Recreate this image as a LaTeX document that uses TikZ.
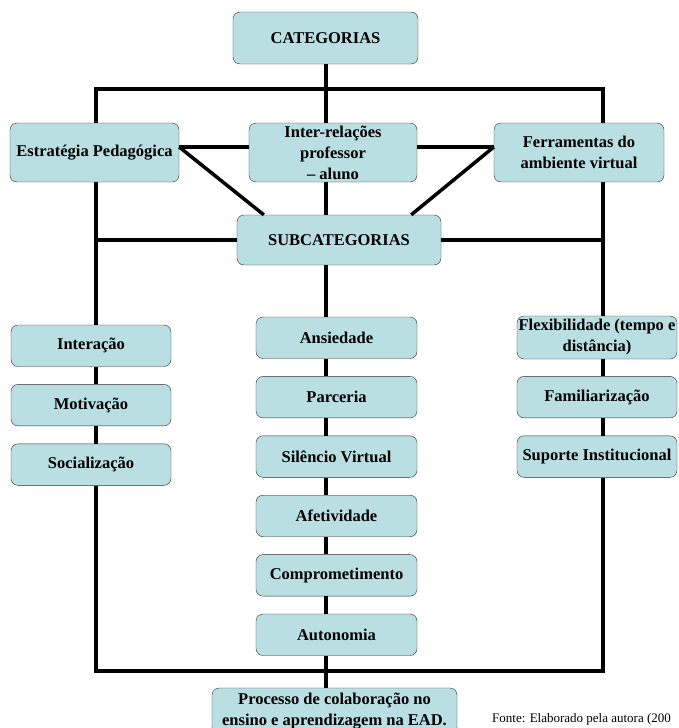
\documentclass[tikz,border=0pt]{standalone}
\usepackage{fontspec}
\setmainfont{Liberation Serif}
\usepackage{tikz}
\usetikzlibrary{positioning}
\definecolor{boxfill}{RGB}{186,223,226}
\definecolor{boxline}{RGB}{45,45,45}
\tikzset{
    catbox/.style={
           rectangle,
           rounded corners=7pt,
           draw=boxline, thin,
           fill=boxfill,
           minimum width=160pt,
           minimum height=41.5pt,
           inner sep=1pt,
           align=center,
           font=\fontsize{16.5}{21}\selectfont\bfseries,
           },
    link/.style={
           draw=black,
           line width=3.5pt,
           },
}

\begin{document}
\begin{tikzpicture}[x=1pt,y=-1pt]

 % frame of the page (the right and lower edges cut the picture)
 \useasboundingbox (0,0) rectangle (678,728);
 \clip (0,0) rectangle (678,728);

 % columns and buses of the connectors
 \coordinate (busTL) at (96,89);
 \coordinate (busTR) at (603,89);
 \coordinate (busBL) at (96,671);
 \coordinate (busBR) at (603,671);
 \coordinate (axis)  at (326,0);
 \coordinate (row1)  at (0,147);

 % STATE Categorias
 \node[catbox,
 minimum width=185pt,
 minimum height=52pt] (cat) at (325.5,38)
 {CATEGORIAS};

 % the three categories
 \node[catbox,
 minimum width=169pt,
 minimum height=59pt] (estrategia) at (94.5,152.5)
 {Estratégia Pedagógica};

 \node[catbox,
 minimum width=168pt,
 minimum height=59pt] (interrel) at (333,152.5)
 {Inter-relações\\professor\\– aluno};

 \node[catbox,
 minimum width=170pt,
 minimum height=59pt] (ferramentas) at (579,152.5)
 {Ferramentas do\\ambiente virtual};

 % STATE Subcategorias
 \node[catbox,
 minimum width=204pt,
 minimum height=50pt] (subcat) at (339,240)
 {SUBCATEGORIAS};

 % left column: Estrategia Pedagogica
 \node[catbox] (interacao) at (91,345.75) {Interação};
 \node[catbox, below=17.5pt of interacao] (motivacao) {Motivação};
 \node[catbox, below=17.5pt of motivacao] (socializacao) {Socialização};

 % middle column: Inter-relacoes
 \node[catbox, minimum width=161pt] (ansiedade) at (336.5,337.75) {Ansiedade};
 \node[catbox, minimum width=161pt, below=17.5pt of ansiedade] (parceria) {Parceria};
 \node[catbox, minimum width=161pt, below=17.5pt of parceria] (silencio) {Silêncio Virtual};
 \node[catbox, minimum width=161pt, below=17.5pt of silencio] (afetividade) {Afetividade};
 \node[catbox, minimum width=161pt, below=17.5pt of afetividade] (comprom) {Comprometimento};
 \node[catbox, minimum width=161pt, below=17.5pt of comprom] (autonomia) {Autonomia};

 % right column: Ferramentas
 \node[catbox,
 minimum height=43pt] (flexib) at (597,337.5)
 {Flexibilidade (tempo e\\distância)};
 \node[catbox, below=17pt of flexib] (familiar) {Familiarização};
 \node[catbox, below=17.5pt of familiar] (suporte) {Suporte Institucional};

 % STATE result
 \node[catbox,
 minimum width=245pt,
 minimum height=46pt] (processo) at (334.5,711)
 {Processo de colaboração no\\ensino e aprendizagem na EAD.};

 % source line
 \node[anchor=base west, inner sep=0pt,
 font=\fontsize{13}{15}\selectfont] (fonte) at (492,722.5)
 {Fonte: Elaborado pela autora (200};

 % draw the connectors: upper bus
 \draw[link] (estrategia.north -| busTL) -- (busTL) -- (busTR) -- (ferramentas.north -| busTR);
 \draw[link] (cat.south -| axis) -- (interrel.north -| axis);

 % between the categories and down to Subcategorias
 \draw[link] (estrategia.east |- row1) -- (interrel.west |- row1);
 \draw[link] (interrel.east |- row1) -- (ferramentas.west |- row1);
 \draw[link] (estrategia.east |- row1) -- ([xshift=27pt]subcat.north west);
 \draw[link] (ferramentas.west |- row1) -- ([xshift=-30pt]subcat.north east);
 \draw[link] (interrel.south -| axis) -- (subcat.north -| axis);
 \draw[link] (subcat.west) -- (subcat.west -| busTL);
 \draw[link] (subcat.east) -- (subcat.east -| busTR);

 % left column
 \draw[link] (estrategia.south -| busTL) -- (interacao.north -| busTL);
 \draw[link] (interacao.south -| busTL) -- (motivacao.north -| busTL);
 \draw[link] (motivacao.south -| busTL) -- (socializacao.north -| busTL);

 % middle column
 \draw[link] (subcat.south -| axis) -- (ansiedade.north -| axis);
 \draw[link] (ansiedade.south -| axis) -- (parceria.north -| axis);
 \draw[link] (parceria.south -| axis) -- (silencio.north -| axis);
 \draw[link] (silencio.south -| axis) -- (afetividade.north -| axis);
 \draw[link] (afetividade.south -| axis) -- (comprom.north -| axis);
 \draw[link] (comprom.south -| axis) -- (autonomia.north -| axis);
 \draw[link] (autonomia.south -| axis) -- (processo.north -| axis);

 % right column
 \draw[link] (ferramentas.south -| busTR) -- (flexib.north -| busTR);
 \draw[link] (flexib.south -| busTR) -- (familiar.north -| busTR);
 \draw[link] (familiar.south -| busTR) -- (suporte.north -| busTR);

 % lower bus
 \draw[link] (socializacao.south -| busTL) -- (busBL) -- (busBR) -- (suporte.south -| busTR);
\end{tikzpicture}
\end{document}
